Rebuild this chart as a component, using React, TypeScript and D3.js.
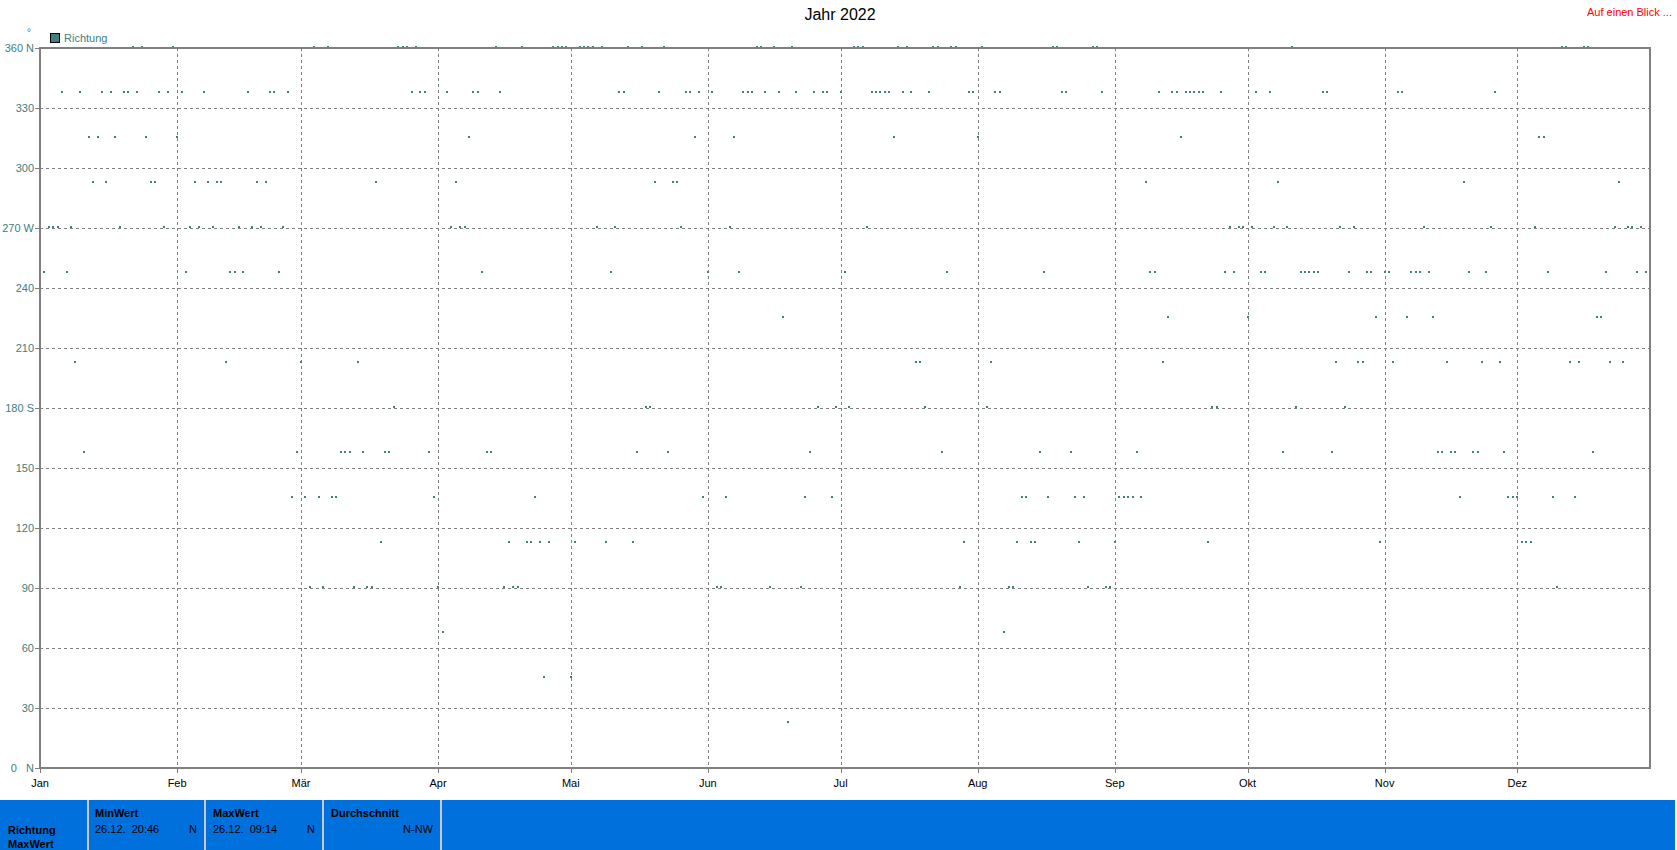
import React from 'react';
import * as d3 from 'd3';

const YEAR = 2022;
const monthLabels = ['Jan', 'Feb', 'Mär', 'Apr', 'Mai', 'Jun', 'Jul', 'Aug', 'Sep', 'Okt', 'Nov', 'Dez'];
const yTicks = [0, 30, 60, 90, 120, 150, 180, 210, 240, 270, 300, 330, 360];
const yTickLabels: Record<number, string> = { 360: '360 N', 270: '270 W', 180: '180 S', 0: '0   N' };

// Day numbers (1 = 1 Jan) on which the direction of the daily max was in each sector
const dayN = [21, 23, 30, 62, 65, 81, 82, 83, 85, 103, 109, 116, 117, 118, 119, 122, 123, 124, 125, 127, 133, 136, 141, 162, 163, 166, 170, 184, 185, 186, 194, 196, 202, 203, 206, 207, 213, 229, 230, 238, 239, 283, 344, 345, 349, 350];
const dayNNE = [169];
const dayNE = [114, 120];
const dayENE = [91, 218];
const dayE = [61, 64, 71, 74, 75, 90, 105, 107, 108, 153, 154, 165, 172, 208, 219, 220, 237, 241, 242, 343];
const dayESE = [77, 106, 110, 111, 113, 115, 121, 128, 134, 209, 221, 224, 225, 235, 243, 264, 303, 335, 336, 337];
const daySE = [57, 60, 63, 66, 67, 89, 112, 150, 155, 173, 179, 222, 223, 228, 234, 236, 244, 245, 246, 247, 249, 321, 332, 333, 334, 342, 347];
const daySSE = [10, 58, 68, 69, 70, 73, 78, 79, 88, 101, 102, 135, 142, 174, 204, 226, 233, 248, 281, 292, 316, 317, 319, 320, 324, 325, 331, 351];
const dayS = [80, 137, 138, 176, 180, 183, 200, 214, 265, 266, 284, 295];
const daySSW = [8, 42, 59, 72, 198, 199, 215, 254, 293, 298, 299, 306, 318, 326, 330, 346, 348, 355, 358];
const daySW = [168, 255, 273, 302, 309, 315, 352, 353];
const dayWSW = [1, 6, 33, 43, 44, 46, 54, 100, 129, 151, 158, 182, 205, 227, 251, 252, 268, 270, 276, 277, 285, 286, 287, 288, 289, 296, 300, 301, 304, 305, 310, 311, 312, 314, 323, 327, 341, 354, 361, 363];
const dayW = [2, 3, 4, 7, 18, 28, 34, 36, 39, 45, 48, 50, 55, 93, 95, 96, 126, 130, 145, 156, 187, 269, 271, 272, 274, 279, 282, 294, 297, 313, 328, 338, 356, 359, 360, 362];
const dayWNW = [12, 15, 25, 26, 35, 38, 40, 41, 49, 51, 76, 94, 139, 143, 144, 250, 280, 322, 357];
const dayNW = [11, 13, 17, 24, 31, 97, 148, 157, 193, 212, 258, 339, 340];
const dayNNW = [5, 9, 14, 16, 19, 20, 22, 27, 29, 32, 37, 47, 52, 53, 56, 84, 86, 87, 92, 98, 99, 104, 131, 132, 140, 146, 147, 149, 152, 159, 160, 161, 164, 167, 171, 175, 177, 178, 181, 188, 189, 190, 191, 192, 195, 197, 201, 210, 211, 216, 217, 231, 232, 240, 253, 256, 257, 259, 260, 261, 262, 263, 267, 275, 278, 290, 291, 307, 308, 329];

const sectors: { deg: number; days: number[] }[] = [
  { deg: 360, days: dayN },
  { deg: 22.5, days: dayNNE },
  { deg: 45, days: dayNE },
  { deg: 67.5, days: dayENE },
  { deg: 90, days: dayE },
  { deg: 112.5, days: dayESE },
  { deg: 135, days: daySE },
  { deg: 157.5, days: daySSE },
  { deg: 180, days: dayS },
  { deg: 202.5, days: daySSW },
  { deg: 225, days: daySW },
  { deg: 247.5, days: dayWSW },
  { deg: 270, days: dayW },
  { deg: 292.5, days: dayWNW },
  { deg: 315, days: dayNW },
  { deg: 337.5, days: dayNNW },
];

const W = 1677;
const H = 850;
const plot = { left: 40, top: 48, right: 1650, bottom: 768 };
const TEAL = '#408080';
const GRID = '#808080';
const FONT = '"Liberation Sans", Arial, sans-serif';
const PANEL = '#0070DD';

export default function App() {
  const x = d3
    .scaleUtc()
    .domain([new Date(Date.UTC(YEAR, 0, 1)), new Date(Date.UTC(YEAR, 11, 31))])
    .range([plot.left, plot.right]);
  const y = d3.scaleLinear().domain([0, 360]).range([plot.bottom, plot.top]);

  const monthDates = d3.utcMonths(new Date(Date.UTC(YEAR, 0, 1)), new Date(Date.UTC(YEAR, 11, 2)));
  const points = sectors.flatMap((s) =>
    s.days.map((d) => ({ date: new Date(Date.UTC(YEAR, 0, 1 + d)), deg: s.deg }))
  );

  return (
    <svg
      width={W}
      height={H}
      style={{ position: 'absolute', left: 0, top: 0, background: '#fff' }}
      fontFamily={FONT}
    >
      <rect x={0} y={0} width={W} height={H} fill="#fff" />
      <text x={840} y={20} fontSize={16} textAnchor="middle" fill="#000">
        Jahr 2022
      </text>
      <text x={1672} y={16} fontSize={11} textAnchor="end" fill="#ff0000">
        Auf einen Blick ...
      </text>
      <text x={27} y={36} fontSize={10} fill={TEAL}>
        °
      </text>
      {/* legend */}
      <rect x={50.5} y={33.5} width={9} height={9} fill={TEAL} stroke="#000" strokeWidth={1} />
      <text x={64} y={42} fontSize={11} fill={TEAL}>
        Richtung
      </text>

      {/* horizontal grid */}
      {yTicks
        .filter((t) => t > 0 && t < 360)
        .map((t) => (
          <line
            key={'hg' + t}
            x1={plot.left}
            x2={plot.right}
            y1={y(t) + 0.5}
            y2={y(t) + 0.5}
            stroke={GRID}
            strokeWidth={1}
            strokeDasharray="3,3"
          />
        ))}
      {/* vertical grid */}
      {monthDates.slice(1).map((m, i) => (
        <line
          key={'vg' + i}
          x1={Math.round(x(m)) + 0.5}
          x2={Math.round(x(m)) + 0.5}
          y1={plot.top}
          y2={plot.bottom + 5}
          stroke={GRID}
          strokeWidth={1}
          strokeDasharray="3,3"
        />
      ))}

      {/* points */}
      {points.map((p, i) => (
        <rect
          key={'p' + i}
          x={Math.round(x(p.date)) - 1}
          y={Math.round(y(p.deg)) - 2}
          width={2}
          height={2}
          fill={TEAL}
        />
      ))}

      {/* frame */}
      <rect
        x={plot.left}
        y={plot.top}
        width={plot.right - plot.left}
        height={plot.bottom - plot.top}
        fill="none"
        stroke={GRID}
        strokeWidth={2}
      />

      {/* y ticks and labels */}
      {yTicks.map((t) => (
        <g key={'yt' + t}>
          <line x1={35} x2={plot.left} y1={y(t) + 0.5} y2={y(t) + 0.5} stroke={GRID} strokeWidth={1} />
          <text
            x={34}
            y={y(t) + 4}
            fontSize={11}
            textAnchor="end"
            fill={TEAL}
            style={{ whiteSpace: 'pre' }}
          >
            {yTickLabels[t] ?? String(t)}
          </text>
        </g>
      ))}

      {/* x ticks and labels */}
      {monthDates.map((m, i) => (
        <g key={'xt' + i}>
          <line
            x1={Math.round(x(m)) + 0.5}
            x2={Math.round(x(m)) + 0.5}
            y1={plot.bottom}
            y2={plot.bottom + 5}
            stroke={GRID}
            strokeWidth={1}
          />
          <text x={x(m)} y={787} fontSize={11} textAnchor="middle" fill="#000">
            {monthLabels[i]}
          </text>
        </g>
      ))}

      {/* bottom summary panel */}
      <rect x={0} y={800} width={1675} height={50} fill={PANEL} />
      {[88, 205, 323, 441].map((sx) => (
        <line key={'sep' + sx} x1={sx} x2={sx} y1={800} y2={850} stroke="#c8c8c8" strokeWidth={2} />
      ))}
      <g fontSize={11} fill="#000">
        <text x={8} y={834} fontWeight="bold">Richtung</text>
        <text x={8} y={848} fontWeight="bold">MaxWert</text>
        <text x={95} y={817} fontWeight="bold">MinWert</text>
        <text x={95} y={833} style={{ whiteSpace: 'pre' }}>26.12.  20:46</text>
        <text x={197} y={833} textAnchor="end">N</text>
        <text x={213} y={817} fontWeight="bold">MaxWert</text>
        <text x={213} y={833} style={{ whiteSpace: 'pre' }}>26.12.  09:14</text>
        <text x={315} y={833} textAnchor="end">N</text>
        <text x={331} y={817} fontWeight="bold">Durchschnitt</text>
        <text x={433} y={833} textAnchor="end">N-NW</text>
      </g>
    </svg>
  );
}
